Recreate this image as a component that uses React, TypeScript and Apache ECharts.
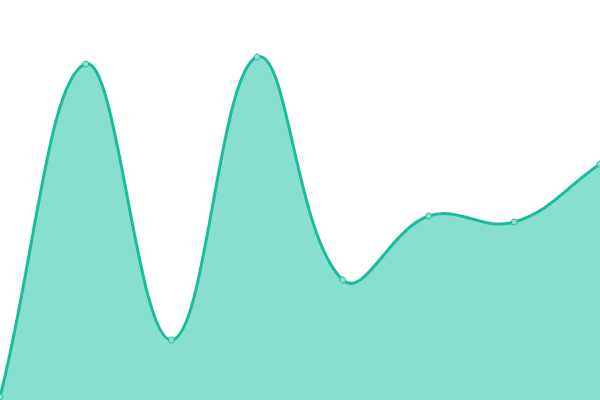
import { useEffect, useRef } from 'react'
import * as echarts from 'echarts'

const categories = ['1', '2', '3', '4', '5', '6', '7', '8']
const values = [3, 336, 60, 343, 120, 184, 178, 236]

const LINE = '#1abc9c'
const FILL = '#88dfcf'
const TENSION = 0.4

// spline through points, control points weighted by segment length (no clamping, so it overshoots a bit)
const buildPath = (pts: number[][]) => {
  const cps: { prev: number[]; next: number[] }[] = pts.map((cur, i) => {
    const prev = pts[i - 1] || cur
    const next = pts[i + 1] || cur
    const d01 = Math.hypot(cur[0] - prev[0], cur[1] - prev[1])
    const d12 = Math.hypot(next[0] - cur[0], next[1] - cur[1])
    let s01 = d01 / (d01 + d12)
    let s12 = d12 / (d01 + d12)
    if (isNaN(s01)) s01 = 0
    if (isNaN(s12)) s12 = 0
    const fa = TENSION * s01
    const fb = TENSION * s12
    return {
      prev: [cur[0] - fa * (next[0] - prev[0]), cur[1] - fa * (next[1] - prev[1])],
      next: [cur[0] + fb * (next[0] - prev[0]), cur[1] + fb * (next[1] - prev[1])]
    }
  })
  let d = `M${pts[0][0]},${pts[0][1]}`
  for (let i = 1; i < pts.length; i++) {
    const a = cps[i - 1].next
    const b = cps[i].prev
    d += ` C${a[0]},${a[1]} ${b[0]},${b[1]} ${pts[i][0]},${pts[i][1]}`
  }
  return d
}

const App = () => {
  const chartRef = useRef<HTMLDivElement | null>(null)

  useEffect(() => {
    document.body.style.margin = '0'
    if (!chartRef.current) return
    const chart = echarts.init(chartRef.current, undefined, { renderer: 'svg' })

    const renderItem = (params: any, api: any) => {
      const idx = params.dataIndex
      const p = api.coord([idx, values[idx]])
      const dot = {
        type: 'circle',
        z2: 10,
        shape: { cx: p[0], cy: p[1], r: 3 },
        style: { fill: '#8fe0d1', stroke: LINE, lineWidth: 1 }
      }
      if (idx !== 0) return dot

      const pts = values.map((v, i) => api.coord([i, v]))
      const line = buildPath(pts)
      const base = api.coord([0, 0])[1]
      const last = pts[pts.length - 1]
      const area = `${line} L${last[0]},${base} L${pts[0][0]},${base} Z`
      return {
        type: 'group',
        children: [
          { type: 'path', z2: 1, shape: { pathData: area }, style: { fill: FILL, stroke: 'none' } },
          { type: 'path', z2: 2, shape: { pathData: line }, style: { fill: 'none', stroke: LINE, lineWidth: 3 } },
          dot
        ]
      }
    }

    chart.setOption({
      animation: false,
      backgroundColor: '#ffffff',
      grid: { left: 0, right: 0, top: 0, bottom: 0 },
      xAxis: {
        type: 'category',
        data: categories,
        boundaryGap: false,
        show: false
      },
      yAxis: {
        type: 'value',
        min: 0,
        max: 400,
        show: false
      },
      series: [
        {
          type: 'custom',
          data: values.map((v, i) => [i, v]),
          encode: { x: 0, y: 1 },
          clip: false,
          renderItem
        }
      ]
    })

    return () => {
      chart.dispose()
    }
  }, [])

  return <div ref={chartRef} style={{ width: 600, height: 400 }} />
}

export default App
